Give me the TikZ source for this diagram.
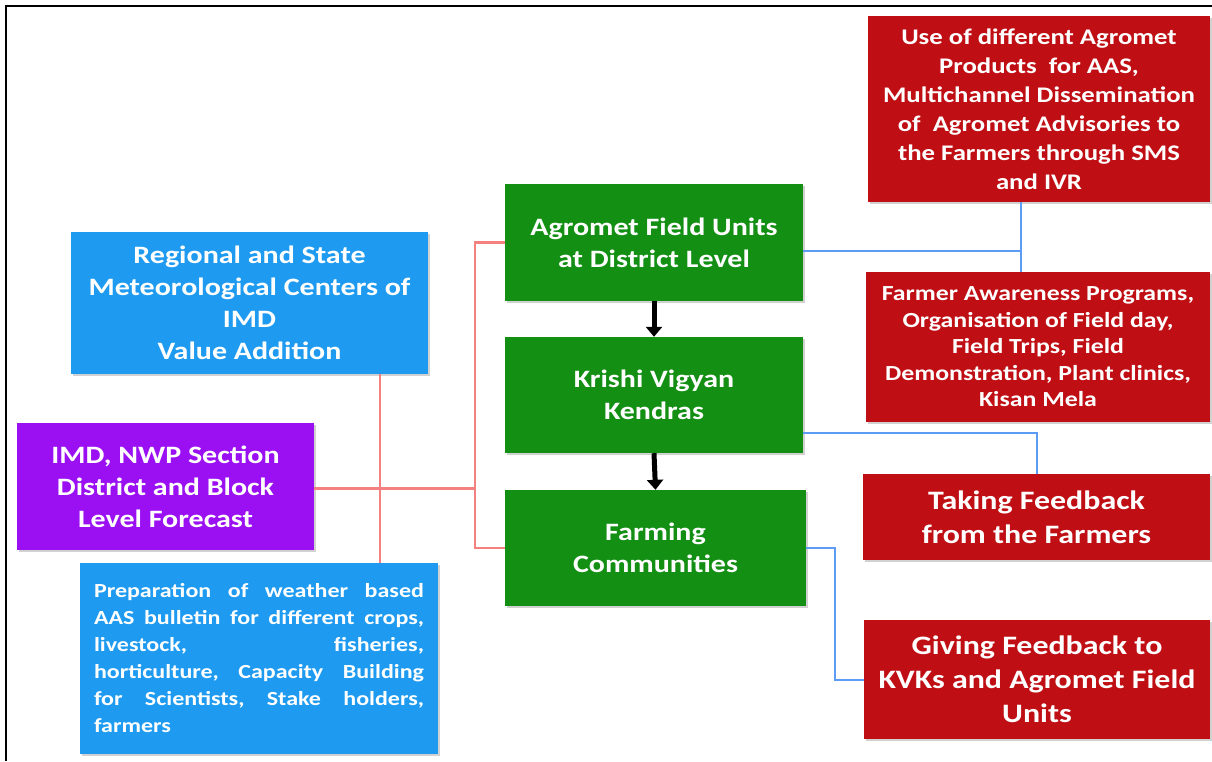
\documentclass[tikz,border=0pt]{standalone}
\usepackage{fontspec}
\setmainfont{Carlito}[FakeStretch=1.2]
\usetikzlibrary{arrows.meta}
\definecolor{boxblue}{HTML}{1E9BF0}
\definecolor{boxpurple}{HTML}{9A10F2}
\definecolor{boxgreen}{HTML}{138F14}
\definecolor{boxred}{HTML}{C00F14}
\definecolor{linkpink}{HTML}{F48080}
\definecolor{linkblue}{HTML}{5C9CF5}
\tikzset{
  box/.style={draw=none, text=white, font=\bfseries, align=center, inner sep=2pt,
    preaction={fill=black, opacity=0.18, transform canvas={xshift=2pt,yshift=-2pt}}},
  pinkline/.style={draw=linkpink, line width=2.5pt},
  blueline/.style={draw=linkblue, line width=2pt},
  flowarrow/.style={draw=black, line width=5pt, -{Triangle[width=16pt,length=10pt]}},
}
\newcommand{\fs}[2]{\fontsize{#1}{#2}\selectfont}
\newcommand{\jline}[1]{\leavevmode\hbox to 330pt{#1}}
\begin{document}
\begin{tikzpicture}[x=1pt,y=-1pt]
\useasboundingbox (0,0) rectangle (1212,761);
\draw[line width=2.5pt] (6,761) -- (6,6) -- (1212,6);

% left column
\node[box, fill=boxblue, minimum width=357pt, minimum height=142pt, font=\bfseries\fs{25}{32}] (rsmc) at (249.5,303)
  {Regional and State\\Meteorological Centers of\\IMD\\Value Addition};
\node[box, fill=boxpurple, minimum width=297pt, minimum height=127pt, font=\bfseries\fs{25}{32}] (imd) at (165.5,486.5)
  {IMD, NWP Section\\District and Block\\Level Forecast};
\node[box, fill=boxblue, minimum width=358pt, minimum height=191pt, text width=330pt, align=left, font=\bfseries\fs{20}{27}] (prep) at (259,658.5)
  {\jline{Preparation\hfill of\hfill weather\hfill based}\\
   \jline{AAS\hfill bulletin\hfill for\hfill different\hfill crops,}\\
   \jline{livestock,\hfill fisheries,}\\
   \jline{horticulture,\hfill Capacity\hfill Building}\\
   \jline{for\hfill Scientists,\hfill Stake\hfill holders,}\\
   farmers};

% middle column
\node[box, fill=boxgreen, minimum width=298pt, minimum height=117pt, font=\bfseries\fs{25}{32}] (agro) at (654,242.5)
  {Agromet Field Units\\at District Level};
\node[box, fill=boxgreen, minimum width=298pt, minimum height=116pt, font=\bfseries\fs{25}{32}] (kvk) at (654,395)
  {Krishi Vigyan\\Kendras};
\node[box, fill=boxgreen, minimum width=301pt, minimum height=116pt, font=\bfseries\fs{25}{32}] (farm) at (655.5,548)
  {Farming\\Communities};

% right column
\node[box, fill=boxred, minimum width=342pt, minimum height=186pt, font=\bfseries\fs{22.3}{29}] (use) at (1039,109)
  {Use of different Agromet\\Products\ \ for AAS,\\Multichannel Dissemination\\of\ \ Agromet Advisories to\\the Farmers through SMS\\and IVR};
\node[box, fill=boxred, minimum width=344pt, minimum height=150pt, font=\bfseries\fs{21.5}{26.5}] (aware) at (1038,347)
  {Farmer Awareness Programs,\\Organisation of Field day,\\Field Trips, Field\\Demonstration, Plant clinics,\\Kisan Mela};
\node[box, fill=boxred, minimum width=347pt, minimum height=86pt, font=\bfseries\fs{26.6}{34}] (take) at (1036.5,517)
  {Taking Feedback\\from the Farmers};
\node[box, fill=boxred, minimum width=346pt, minimum height=119pt, font=\bfseries\fs{26.6}{34}] (give) at (1037,679.5)
  {Giving Feedback to\\KVKs and Agromet Field\\Units};

% junction coordinates
\coordinate (px) at (380,0);
\coordinate (jx) at (475,0);
\coordinate (bx) at (1021,0);
\coordinate (gx) at (835,0);

% pink connectors
\draw[pinkline] (rsmc.south -| px) -- (prep.north -| px);
\draw[pinkline] ([yshift=-2pt]imd.east) -- ([yshift=-2pt]imd.east -| jx);
\draw[pinkline] (agro.west) -- (agro.west -| jx) -- (farm.west -| jx) -- (farm.west);

% blue connectors
\draw[blueline] ([yshift=-8pt]agro.east) -- ([yshift=-8pt]agro.east -| bx);
\draw[blueline] (use.south -| bx) -- (aware.north -| bx);
\draw[blueline] ([yshift=-38pt]kvk.east) -| (take.north);
\draw[blueline] (farm.east) -| (give.west -| gx) -- (give.west);

% arrows
\draw[flowarrow] (agro.south) -- (kvk.north);
\draw[flowarrow] (kvk.south) -- (farm.north);
\end{tikzpicture}
\end{document}
